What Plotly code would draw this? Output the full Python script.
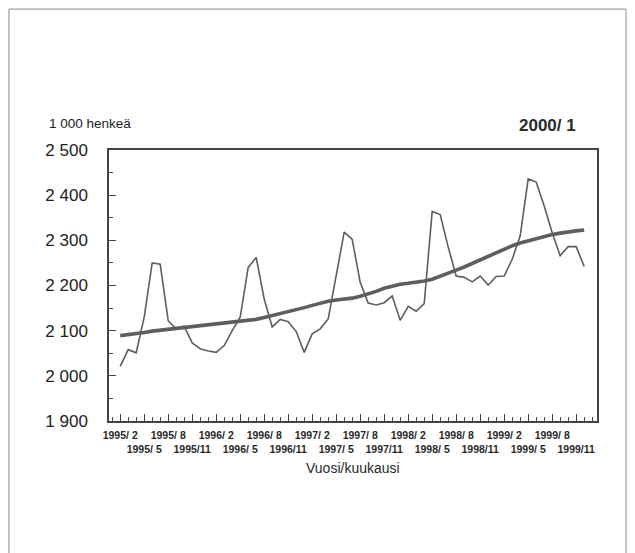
import plotly.graph_objects as go

# kuukaudet 1995/2 ... 1999/12
months = [f"{1995 + (m + 1) // 12}/{(m + 1) % 12 + 1}" for m in range(59)]

tyovoima = [2021, 2058, 2051, 2130, 2250, 2247, 2122, 2104, 2110, 2073,
            2060, 2055, 2052, 2067, 2100, 2130, 2240, 2262, 2170, 2108,
            2125, 2120, 2098, 2052, 2093, 2104, 2126, 2220, 2318, 2302,
            2207, 2161, 2157, 2162, 2177, 2123, 2154, 2143, 2160, 2364,
            2357, 2285, 2221, 2218, 2208, 2221, 2201, 2220, 2221, 2258,
            2310, 2436, 2429, 2376, 2317, 2266, 2286, 2286, 2242]

trendi = [2089, 2092, 2094, 2096, 2099, 2101, 2103, 2105, 2107, 2109,
          2111, 2113, 2115, 2116, 2118, 2120, 2122, 2125, 2129, 2133,
          2137, 2142, 2146, 2151, 2156, 2161, 2165, 2168, 2170, 2172,
          2176, 2181, 2187, 2194, 2199, 2203, 2205, 2207, 2210, 2214,
          2220, 2227, 2234, 2241, 2249, 2257, 2265, 2273, 2281, 2288,
          2294, 2299, 2304, 2309, 2313, 2316, 2319, 2321, 2323]

y_ticks = [1900, 2000, 2100, 2200, 2300, 2400, 2500]
y_labels = ["1 900", "2 000", "2 100", "2 200", "2 300", "2 400", "2 500"]

FONT = "Liberation Sans Narrow, Arial Narrow, Liberation Sans, sans-serif"
GREY = "#5e5e5e"

x = list(range(len(months)))
x_ticks = x[::3]
x_labels = []
for k, i in enumerate(x_ticks):
    yy, mm = months[i].split("/")
    lab = f"{yy}/{mm:>2}"
    # joka toinen nimiö alemmalle riville
    x_labels.append(lab if k % 2 == 0 else "<br>" + lab)

fig = go.Figure()
fig.add_trace(go.Scatter(x=x, y=tyovoima, mode="lines",
                         line=dict(color=GREY, width=1.6), showlegend=False))
fig.add_trace(go.Scatter(x=x, y=trendi, mode="lines",
                         line=dict(color=GREY, width=3.6), showlegend=False))

# sivun oma 8 px reunus on otettu huomioon koossa ja marginaaleissa
fig.update_layout(
    width=627, height=545,
    margin=dict(l=101, r=38, t=142, b=132),
    paper_bgcolor="white", plot_bgcolor="white",
    font=dict(family=FONT, color="#2a2a2a"),
    xaxis=dict(
        range=[-1.4, 59.6], showgrid=False, zeroline=False,
        showline=True, linecolor="#444444", linewidth=1.5, mirror=True,
        tickmode="array", tickvals=x_ticks, ticktext=x_labels, tickangle=0,
        ticks="inside", ticklen=7, tickcolor="#444444",
        minor=dict(dtick=1, tick0=0, ticks="inside", ticklen=4, tickcolor="#444444"),
        tickfont=dict(size=10.5, family=FONT, weight="bold"),
        ticklabelstandoff=4,
    ),
    yaxis=dict(
        range=[1900, 2500], showgrid=False, zeroline=False,
        showline=True, linecolor="#444444", linewidth=1.5, mirror=True,
        tickmode="array", tickvals=y_ticks, ticktext=y_labels,
        ticks="inside", ticklen=7, tickcolor="#444444",
        minor=dict(dtick=50, tick0=1900, ticks="inside", ticklen=4, tickcolor="#444444"),
        tickfont=dict(size=17, family=FONT, color="#222222"),
        ticklabelstandoff=16,
    ),
)

fig.add_annotation(text="1 000 henkeä", xref="paper", yref="paper",
                   x=-0.128, y=1.0996, xanchor="left", yanchor="middle",
                   showarrow=False, font=dict(size=13.5, family=FONT, color="#222222"))
fig.add_annotation(text="<b>2000/ 1</b>", xref="paper", yref="paper",
                   x=0.961, y=1.0886, xanchor="right", yanchor="middle",
                   showarrow=False, font=dict(size=17, family=FONT))
fig.add_annotation(text="Vuosi/kuukausi", xref="paper", yref="paper",
                   x=0.5, y=-0.173, xanchor="center", yanchor="middle",
                   showarrow=False, font=dict(size=14, family=FONT))

# kehys koko kuvan ympärillä (alareuna jää kuvan ulkopuolelle)
fig.add_shape(type="rect", xref="paper", yref="paper",
              x0=-0.205, x1=1.0594, y0=-0.60, y1=1.520,
              line=dict(color="#8a8a8a", width=1))

fig.write_html("out.html")
